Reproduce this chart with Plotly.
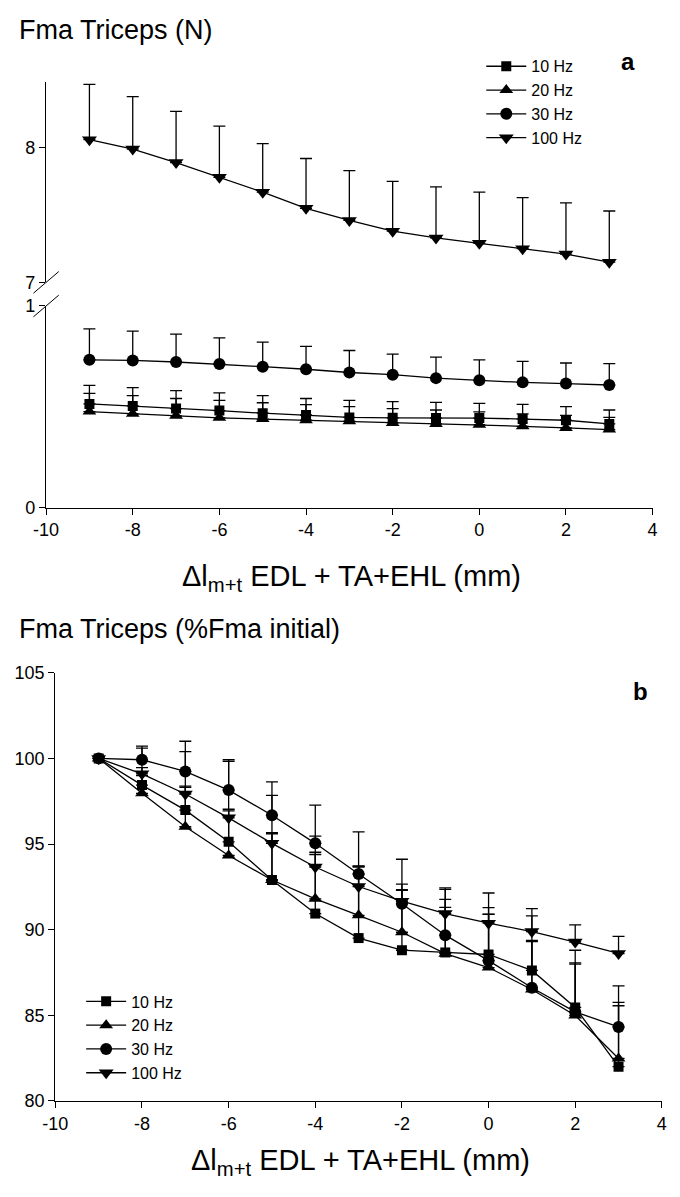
import plotly.graph_objects as go

# Muscle length change (mm)
x_len = [-9, -8, -7, -6, -5, -4, -3, -2, -1, 0, 1, 2, 3]

# Panel a: absolute force (N), mean and upper SD
a_10 = [0.514, 0.504, 0.491, 0.481, 0.468, 0.459, 0.447, 0.445, 0.444, 0.444, 0.439, 0.433, 0.415]
a_10_sd = [0.092, 0.091, 0.089, 0.088, 0.087, 0.082, 0.085, 0.080, 0.078, 0.073, 0.073, 0.068, 0.069]
a_20 = [0.476, 0.465, 0.455, 0.445, 0.439, 0.433, 0.428, 0.420, 0.415, 0.411, 0.403, 0.395, 0.387]
a_20_sd = [0.090, 0.090, 0.086, 0.087, 0.081, 0.078, 0.073, 0.071, 0.069, 0.064, 0.062, 0.062, 0.060]
a_30 = [0.733, 0.730, 0.722, 0.712, 0.699, 0.686, 0.670, 0.659, 0.642, 0.631, 0.621, 0.615, 0.608]
a_30_sd = [0.153, 0.145, 0.138, 0.130, 0.122, 0.114, 0.109, 0.102, 0.104, 0.102, 0.104, 0.102, 0.106]
a_100 = [8.06, 7.99, 7.89, 7.78, 7.67, 7.55, 7.46, 7.38, 7.33, 7.29, 7.25, 7.21, 7.15]
a_100_sd = [0.41, 0.39, 0.38, 0.38, 0.36, 0.37, 0.37, 0.37, 0.38, 0.38, 0.38, 0.38, 0.38]

# Panel b: force relative to initial (%), mean and upper SD
b_10 = [100, 98.44, 96.98, 95.13, 92.90, 90.94, 89.51, 88.80, 88.67, 88.55, 87.62, 85.46, 82.00]
b_10_sd = [0, 0.55, 1.40, 1.90, 2.77, 3.45, 4.15, 3.50, 3.10, 2.35, 1.75, 2.60, 3.56]
b_20 = [100, 97.96, 96.01, 94.33, 92.90, 91.80, 90.84, 89.85, 88.60, 87.79, 86.51, 84.99, 82.48]
b_20_sd = [0, 1.50, 2.30, 2.60, 2.70, 2.72, 2.85, 2.48, 2.70, 3.10, 2.80, 3.00, 3.27]
b_30 = [100, 99.92, 99.24, 98.15, 96.68, 95.04, 93.25, 91.51, 89.68, 88.19, 86.61, 85.20, 84.32]
b_30_sd = [0, 0.80, 1.76, 1.77, 1.95, 2.23, 2.46, 2.60, 2.67, 3.10, 4.20, 3.60, 2.40]
b_100 = [100, 99.10, 97.92, 96.53, 95.04, 93.66, 92.52, 91.66, 90.94, 90.38, 89.89, 89.28, 88.61]
b_100_sd = [0, 1.50, 2.48, 3.30, 2.80, 1.80, 1.20, 1.00, 1.50, 1.76, 1.34, 1.00, 1.00]

series_names = ["10 Hz", "20 Hz", "30 Hz", "100 Hz"]
symbols = ["square", "triangle-up", "circle", "triangle-down"]
sizes = [10, 12, 12, 13]

x_ticks = [-10, -8, -6, -4, -2, 0, 2, 4]
x_ticktext = ["-10", "-8", "-6", "-4", "-2", "0", "2", "4"]

W, H = 680, 1197
FONT = "Liberation Sans, Arial"


def px_x(p):
    return p / W


def px_y(p):
    return 1 - p / H


fig = go.Figure()


def add_series(x, y, sd, name, sym, size, xa, ya, legend):
    fig.add_trace(go.Scatter(
        x=x, y=y, name=name, mode="lines+markers",
        xaxis=xa, yaxis=ya, legend=legend,
        line=dict(color="black", width=1.3),
        marker=dict(symbol=sym, size=size, color="black"),
        error_y=dict(type="data", array=sd, arrayminus=[0] * len(sd),
                     symmetric=False, color="black", thickness=1.3, width=6),
    ))


# Panel a (broken axis: lower part 0-1, upper part 7-8.5)
add_series(x_len, a_10, a_10_sd, series_names[0], symbols[0], sizes[0], "x", "y", "legend")
add_series(x_len, a_20, a_20_sd, series_names[1], symbols[1], sizes[1], "x", "y", "legend")
add_series(x_len, a_30, a_30_sd, series_names[2], symbols[2], sizes[2], "x", "y", "legend")
add_series(x_len, a_100, a_100_sd, series_names[3], symbols[3], sizes[3], "x2", "y2", "legend")

# Panel b
for yv, sd, nm, sym, sz in zip([b_10, b_20, b_30, b_100],
                               [b_10_sd, b_20_sd, b_30_sd, b_100_sd],
                               series_names, symbols, sizes):
    add_series(x_len, yv, sd, nm, sym, sz, "x3", "y3", "legend2")

axis_common = dict(showline=True, linecolor="black", linewidth=1.3,
                   ticks="outside", ticklen=6, tickcolor="black", tickwidth=1.3,
                   showgrid=False, zeroline=False,
                   tickfont=dict(family=FONT, size=18, color="black"))

xa_dom = [px_x(34), px_x(657)]
xb_dom = [px_x(43.5), px_x(666.5)]

legend_common = dict(xanchor="left", yanchor="top", bgcolor="rgba(0,0,0,0)",
                     font=dict(family=FONT, size=16, color="black"),
                     tracegroupgap=0, itemwidth=40, itemsizing="trace")

fig.update_layout(
    width=W, height=H,
    margin=dict(l=0, r=0, t=0, b=0),
    paper_bgcolor="white", plot_bgcolor="white",
    font=dict(family=FONT, color="black"),
    xaxis=dict(domain=xa_dom, range=[-10, 4], tickvals=x_ticks, ticktext=x_ticktext,
               anchor="y", **axis_common),
    yaxis=dict(domain=[px_y(506), px_y(301)], range=[0, 1], tickvals=[0, 1],
               anchor="x", **axis_common),
    xaxis2=dict(domain=xa_dom, range=[-10, 4], matches="x", visible=False, anchor="y2"),
    yaxis2=dict(domain=[px_y(277), px_y(73)], range=[7, 8.49], tickvals=[7, 8],
                anchor="x2", **axis_common),
    xaxis3=dict(domain=xb_dom, range=[-10, 4], tickvals=x_ticks, ticktext=x_ticktext,
                anchor="y3", **axis_common),
    yaxis3=dict(domain=[px_y(1109.5), px_y(674)], range=[80, 105],
                tickvals=[80, 85, 90, 95, 100, 105], anchor="x3", **axis_common),
    legend=dict(x=px_x(481), y=px_y(40), **legend_common),
    legend2=dict(x=px_x(70), y=px_y(991), **legend_common),
)

# Axis-break marks on the panel a y axis
for yc in (277, 301):
    fig.add_shape(type="line", xref="paper", yref="paper",
                  x0=px_x(21), y0=px_y(yc + 11), x1=px_x(47), y1=px_y(yc - 11),
                  line=dict(color="black", width=1))

title_font = dict(family=FONT, size=27, color="black")
xtitle_font = dict(family=FONT, size=29, color="black")
xtitle = "\u0394l<sub>m+t</sub> EDL + TA+EHL (mm)"

annotations = [
    dict(text="Fma Triceps (N)", x=px_x(4), y=px_y(20), xanchor="left", yanchor="middle",
         font=title_font),
    dict(text="Fma Triceps (%Fma initial)", x=px_x(4), y=px_y(630), xanchor="left",
         yanchor="middle", font=title_font),
    dict(text=xtitle, x=px_x(348), y=px_y(578), xanchor="center", yanchor="middle",
         font=xtitle_font),
    dict(text=xtitle, x=px_x(357), y=px_y(1172), xanchor="center", yanchor="middle",
         font=xtitle_font),
    dict(text="<b>a</b>", x=px_x(632), y=px_y(52), xanchor="center", yanchor="middle",
         font=dict(family=FONT, size=24, color="black")),
    dict(text="<b>b</b>", x=px_x(645), y=px_y(693), xanchor="center", yanchor="middle",
         font=dict(family=FONT, size=24, color="black")),
]
for a in annotations:
    fig.add_annotation(xref="paper", yref="paper", showarrow=False, **a)

fig.write_html("out.html")
